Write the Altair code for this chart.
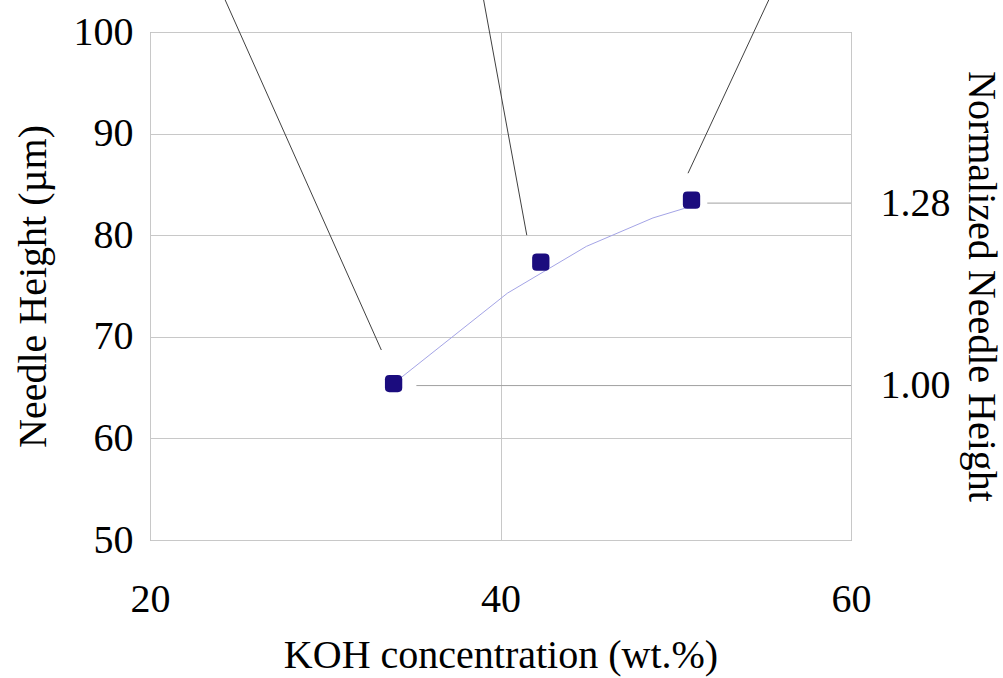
import altair as alt
import pandas as pd

# --- data ---
koh = [33.9, 42.3, 50.9]
needle_height = [65.4, 77.35, 83.45]

# thin trend line drawn in the reference (polyline vertices)
trend_x = [33.9, 40.4, 44.9, 48.7, 50.8]
trend_y = [65.4, 74.3, 78.9, 81.7, 82.8]

# callout lines (to images outside the chart), data units
ann_x_top = [24.2, 39.0, 55.4]
ann_y_top = [103.5, 103.5, 103.5]
ann_x_end = [33.2, 41.5, 50.7]
ann_y_end = [68.7, 80.0, 86.1]

# normalized height labels on the right axis and leader lines
norm_labels = ["1.00", "1.28"]
norm_y = [65.2, 83.16]
leader_x_start = [35.2, 51.8]
leader_x_end = [60, 60]

x_ticks = [20, 40, 60]
y_ticks = [50, 60, 70, 80, 90, 100]

FONT = "Liberation Serif"

pts = pd.DataFrame({"koh": koh, "h": needle_height})
trend = pd.DataFrame({"koh": trend_x, "h": trend_y})
ann = pd.DataFrame({"x": ann_x_top, "y": ann_y_top, "x2": ann_x_end, "y2": ann_y_end})
lead = pd.DataFrame({"x": leader_x_start, "x2": leader_x_end, "y": norm_y, "lab": norm_labels})

x_scale = alt.Scale(domain=[20, 60], nice=False)
y_scale = alt.Scale(domain=[50, 100], nice=False)

x_axis = alt.Axis(values=x_ticks, grid=True, title="KOH concentration (wt.%)",
                  labelPadding=39, titlePadding=16, labelFlush=False, format="d")
y_axis = alt.Axis(values=y_ticks, grid=True, title="Needle Height (µm)",
                  labelPadding=17, titlePadding=20, labelFlush=False, format="d")

def xenc(field):
    return alt.X(field, type="quantitative", scale=x_scale, axis=x_axis)

def yenc(field):
    return alt.Y(field, type="quantitative", scale=y_scale, axis=y_axis)

line = alt.Chart(trend).mark_line(color="#a4a4e6", strokeWidth=1).encode(
    x=xenc("koh"), y=yenc("h"), order=alt.Order("koh:Q")
)

rounded_square = ("M -0.5 -1 L 0.5 -1 Q 1 -1 1 -0.5 L 1 0.5 Q 1 1 0.5 1 "
                  "L -0.5 1 Q -1 1 -1 0.5 L -1 -0.5 Q -1 -1 -0.5 -1 Z")
points = alt.Chart(pts).mark_point(shape=rounded_square, filled=True, size=300,
                                   color="#1b0c7e", opacity=1).encode(
    x=xenc("koh"), y=yenc("h")
)

callouts = alt.Chart(ann).mark_rule(color="#404040", strokeWidth=1).encode(
    x=xenc("x"), y=yenc("y"), x2="x2", y2="y2"
)

left = alt.layer(line, callouts, points)

label_expr = " : ".join(
    f"datum.value == {v} ? '{l}'" for v, l in zip(norm_y, norm_labels)
) + " : ''"

right = alt.Chart(lead).mark_rule(color="#a0a0a0", strokeWidth=1).encode(
    x=xenc("x"), x2="x2",
    y=alt.Y("y", type="quantitative", scale=alt.Scale(domain=[50, 100], nice=False),
            axis=alt.Axis(orient="right", values=norm_y, labelExpr=label_expr, grid=False,
                          title="Normalized Needle Height", labelPadding=29, titlePadding=10,
                          labelFlush=False)),
)

chart = alt.layer(left, right).resolve_scale(y="independent").properties(
    width=701, height=508,
    autosize=alt.AutoSizeParams(type="none"),
    padding={"left": 150, "top": 32, "right": 152, "bottom": 138},
    background="white",
).configure_view(
    stroke="#999999", strokeWidth=1
).configure_axis(
    labelFont=FONT, titleFont=FONT, labelFontSize=40, titleFontSize=40,
    titleFontWeight="normal", labelColor="black", titleColor="black",
    ticks=False, domain=False, gridColor="#c8c8c8", gridWidth=1,
    labelOverlap=False, labelBound=False,
)

chart.save("out.html", embed_options={"renderer": "svg", "actions": False})
